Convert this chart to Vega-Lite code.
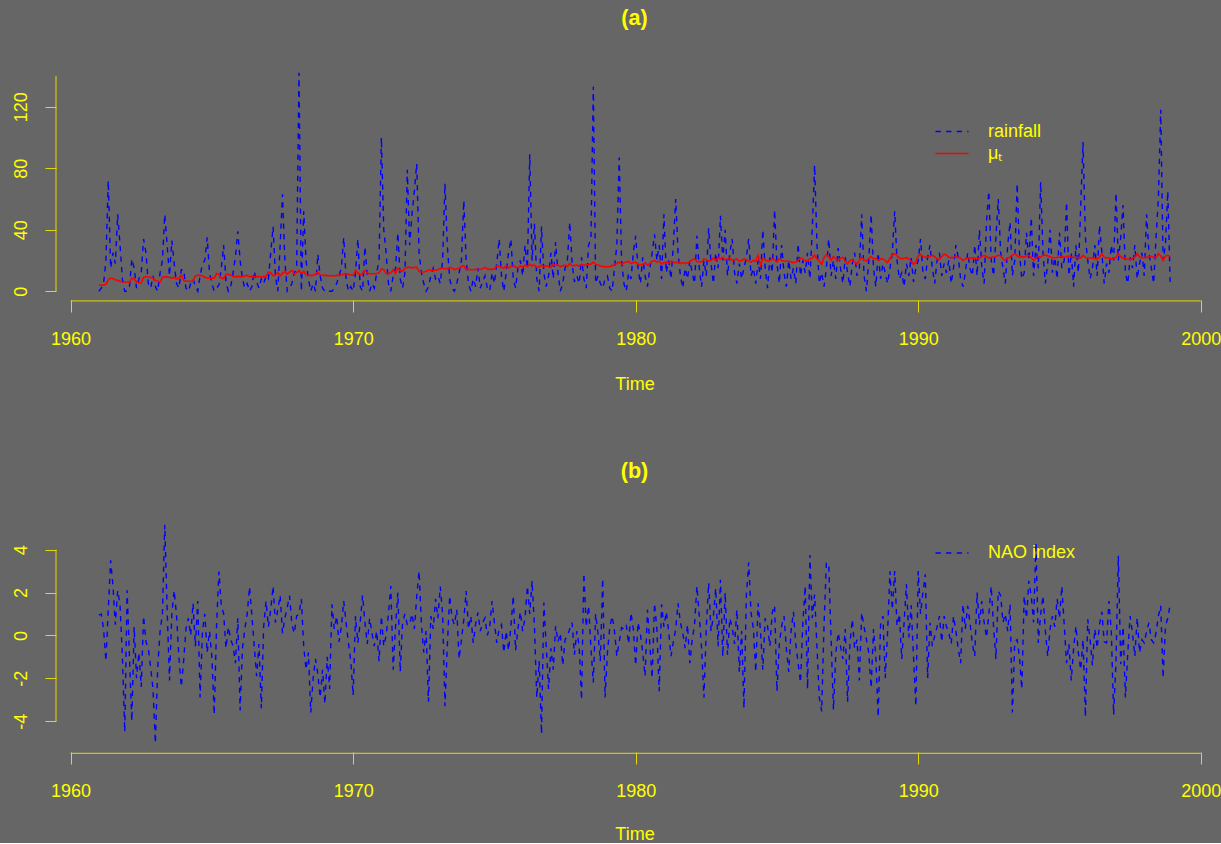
{
"$schema": "https://vega.github.io/schema/vega-lite/v6.json",
"background": "#666666",
"padding": {"left": 11, "top": 8, "right": 0, "bottom": 0},
"spacing": 68,
"resolve": {"scale": {"color": "independent", "strokeDash": "independent"}, "legend": {"color": "independent", "strokeDash": "independent"}},
"config": {
  "view": {"stroke": null},
  "font": "Liberation Sans",
  "axis": {"grid": false, "domain": false, "ticks": true, "tickColor": "#E8D800", "tickSize": 11, "tickWidth": 1, "labelColor": "#FFFF00", "labelFont": "Liberation Sans", "labelFontSize": 18, "titleColor": "#FFFF00", "titleFont": "Liberation Sans", "titleFontSize": 18, "titleFontWeight": "normal"},
  "title": {"color": "#FFFF00", "font": "Liberation Sans", "fontSize": 21.6, "fontWeight": "bold", "anchor": "middle", "offset": 33},
  "legend": {"symbolType": "M-2,0L2,0", "symbolSize": 272, "symbolStrokeWidth": 1.4, "labelColor": "#FFFF00", "labelFont": "Liberation Sans", "labelFontSize": 18, "labelOffset": 27, "rowPadding": 4, "padding": 0}
},
"datasets": {"d": [
{"time":1961,"rain":0,"mu":3.9,"nao":0.95},
{"time":1961.083,"rain":2,"mu":3.9,"nao":1.0},
{"time":1961.167,"rain":5,"mu":4.0,"nao":0.3},
{"time":1961.25,"rain":20,"mu":4.5,"nao":-1.2},
{"time":1961.333,"rain":72,"mu":7.5,"nao":1.2},
{"time":1961.417,"rain":15,"mu":8.5,"nao":3.5},
{"time":1961.5,"rain":25,"mu":8.2,"nao":2.3},
{"time":1961.583,"rain":18,"mu":7.5,"nao":0.5},
{"time":1961.667,"rain":50,"mu":7.0,"nao":2.1},
{"time":1961.75,"rain":30,"mu":6.5,"nao":1.4},
{"time":1961.833,"rain":8,"mu":6.0,"nao":-1.0},
{"time":1961.917,"rain":0,"mu":6.0,"nao":-4.5},
{"time":1962,"rain":0,"mu":6.0,"nao":2.1},
{"time":1962.083,"rain":3,"mu":5.8,"nao":-1.0},
{"time":1962.167,"rain":21,"mu":8.5,"nao":-4.0},
{"time":1962.25,"rain":15,"mu":8.0,"nao":0.4},
{"time":1962.333,"rain":2,"mu":6.0,"nao":-2.0},
{"time":1962.417,"rain":8,"mu":5.5,"nao":-0.8},
{"time":1962.5,"rain":12,"mu":5.5,"nao":-2.4},
{"time":1962.583,"rain":34,"mu":9.0,"nao":0.9},
{"time":1962.667,"rain":25,"mu":9.5,"nao":-0.3},
{"time":1962.75,"rain":5,"mu":9.3,"nao":-0.6},
{"time":1962.833,"rain":2,"mu":9.0,"nao":-1.5},
{"time":1962.917,"rain":10,"mu":8.5,"nao":-2.5},
{"time":1963,"rain":3,"mu":7.0,"nao":-5.03},
{"time":1963.083,"rain":0,"mu":6.5,"nao":-1.5},
{"time":1963.167,"rain":12,"mu":6.0,"nao":0.2},
{"time":1963.25,"rain":20,"mu":9.0,"nao":1.0},
{"time":1963.333,"rain":50,"mu":9.3,"nao":5.16},
{"time":1963.417,"rain":30,"mu":9.3,"nao":1.2},
{"time":1963.5,"rain":10,"mu":9.0,"nao":-2.1},
{"time":1963.583,"rain":33,"mu":8.5,"nao":1.0},
{"time":1963.667,"rain":18,"mu":9.0,"nao":2.1},
{"time":1963.75,"rain":5,"mu":8.0,"nao":0.9},
{"time":1963.833,"rain":2,"mu":8.5,"nao":-1.0},
{"time":1963.917,"rain":14,"mu":10.5,"nao":-2.4},
{"time":1964,"rain":14,"mu":7.0,"nao":-1.2},
{"time":1964.083,"rain":2,"mu":6.5,"nao":0.3},
{"time":1964.167,"rain":0,"mu":6.5,"nao":0.8},
{"time":1964.25,"rain":5,"mu":6.5,"nao":0.0},
{"time":1964.333,"rain":8,"mu":6.5,"nao":1.5},
{"time":1964.417,"rain":3,"mu":10.0,"nao":-0.5},
{"time":1964.5,"rain":0,"mu":10.3,"nao":1.6},
{"time":1964.583,"rain":10,"mu":10.3,"nao":-2.9},
{"time":1964.667,"rain":18,"mu":10.0,"nao":0.2},
{"time":1964.75,"rain":20,"mu":9.0,"nao":1.0},
{"time":1964.833,"rain":35,"mu":8.5,"nao":-0.8},
{"time":1964.917,"rain":12,"mu":8.5,"nao":0.2},
{"time":1965,"rain":5,"mu":8.5,"nao":-1.0},
{"time":1965.083,"rain":0,"mu":8.5,"nao":-3.7},
{"time":1965.167,"rain":2,"mu":11.5,"nao":0.5},
{"time":1965.25,"rain":4,"mu":11.0,"nao":2.98},
{"time":1965.333,"rain":15,"mu":8.5,"nao":1.4},
{"time":1965.417,"rain":30,"mu":8.2,"nao":1.0},
{"time":1965.5,"rain":6,"mu":11.0,"nao":-0.6},
{"time":1965.583,"rain":0,"mu":11.0,"nao":0.4},
{"time":1965.667,"rain":3,"mu":10.5,"nao":-0.2},
{"time":1965.75,"rain":12,"mu":9.5,"nao":-0.5},
{"time":1965.833,"rain":22,"mu":9.5,"nao":-1.3},
{"time":1965.917,"rain":39,"mu":9.5,"nao":0.8},
{"time":1966,"rain":20,"mu":9.5,"nao":-3.5},
{"time":1966.083,"rain":8,"mu":9.5,"nao":-0.6},
{"time":1966.167,"rain":2,"mu":10.0,"nao":0.3},
{"time":1966.25,"rain":5,"mu":10.3,"nao":1.0},
{"time":1966.333,"rain":0,"mu":9.5,"nao":2.27},
{"time":1966.417,"rain":3,"mu":9.5,"nao":0.9},
{"time":1966.5,"rain":13,"mu":9.5,"nao":-0.5},
{"time":1966.583,"rain":6,"mu":9.5,"nao":-1.9},
{"time":1966.667,"rain":2,"mu":9.5,"nao":-0.4},
{"time":1966.75,"rain":8,"mu":9.3,"nao":-3.4},
{"time":1966.833,"rain":5,"mu":9.5,"nao":0.4},
{"time":1966.917,"rain":10,"mu":9.5,"nao":1.6},
{"time":1967,"rain":8,"mu":12.5,"nao":0.4},
{"time":1967.083,"rain":25,"mu":12.0,"nao":1.2},
{"time":1967.167,"rain":42,"mu":10.0,"nao":2.3},
{"time":1967.25,"rain":10,"mu":10.5,"nao":0.6},
{"time":1967.333,"rain":0,"mu":12.0,"nao":1.2},
{"time":1967.417,"rain":30,"mu":10.0,"nao":1.87},
{"time":1967.5,"rain":63,"mu":11.5,"nao":0.1},
{"time":1967.583,"rain":20,"mu":13.0,"nao":0.8},
{"time":1967.667,"rain":0,"mu":11.0,"nao":1.3},
{"time":1967.75,"rain":2,"mu":12.5,"nao":1.85},
{"time":1967.833,"rain":5,"mu":13.5,"nao":0.5},
{"time":1967.917,"rain":12,"mu":11.0,"nao":0.1},
{"time":1968,"rain":15,"mu":12.0,"nao":0.9},
{"time":1968.083,"rain":142,"mu":13.5,"nao":1.0},
{"time":1968.167,"rain":0,"mu":11.5,"nao":1.7},
{"time":1968.25,"rain":52,"mu":13.0,"nao":-0.5},
{"time":1968.333,"rain":20,"mu":10.5,"nao":-1.6},
{"time":1968.417,"rain":8,"mu":10.3,"nao":-0.8},
{"time":1968.5,"rain":0,"mu":10.3,"nao":-3.6},
{"time":1968.583,"rain":5,"mu":10.3,"nao":-2.0},
{"time":1968.667,"rain":0,"mu":11.0,"nao":-1.1},
{"time":1968.75,"rain":24,"mu":12.5,"nao":-1.8},
{"time":1968.833,"rain":10,"mu":10.5,"nao":-2.9},
{"time":1968.917,"rain":2,"mu":10.3,"nao":-1.6},
{"time":1969,"rain":0,"mu":10.3,"nao":-3.2},
{"time":1969.083,"rain":1,"mu":10.3,"nao":-1.0},
{"time":1969.167,"rain":0,"mu":10.0,"nao":-2.5},
{"time":1969.25,"rain":0,"mu":10.0,"nao":1.45},
{"time":1969.333,"rain":2,"mu":10.0,"nao":0.3},
{"time":1969.417,"rain":5,"mu":10.3,"nao":0.9},
{"time":1969.5,"rain":10,"mu":10.3,"nao":-0.3},
{"time":1969.583,"rain":15,"mu":10.5,"nao":0.4},
{"time":1969.667,"rain":35,"mu":11.0,"nao":1.6},
{"time":1969.75,"rain":8,"mu":11.4,"nao":0.6},
{"time":1969.833,"rain":0,"mu":11.0,"nao":-0.35},
{"time":1969.917,"rain":3,"mu":10.5,"nao":-1.2},
{"time":1970,"rain":0,"mu":10.3,"nao":-2.8},
{"time":1970.083,"rain":12,"mu":13.5,"nao":0.9},
{"time":1970.167,"rain":34,"mu":12.0,"nao":-0.35},
{"time":1970.25,"rain":3,"mu":10.5,"nao":0.6},
{"time":1970.333,"rain":0,"mu":11.5,"nao":1.87},
{"time":1970.417,"rain":29,"mu":13.5,"nao":0.6},
{"time":1970.5,"rain":10,"mu":11.5,"nao":-0.4},
{"time":1970.583,"rain":0,"mu":11.4,"nao":0.8},
{"time":1970.667,"rain":5,"mu":11.4,"nao":0.1},
{"time":1970.75,"rain":2,"mu":11.4,"nao":-0.5},
{"time":1970.833,"rain":12,"mu":11.5,"nao":0.2},
{"time":1970.917,"rain":20,"mu":12.0,"nao":-1.2},
{"time":1971,"rain":100,"mu":14.5,"nao":0.9},
{"time":1971.083,"rain":40,"mu":14.0,"nao":-0.5},
{"time":1971.167,"rain":25,"mu":11.5,"nao":0.0},
{"time":1971.25,"rain":5,"mu":11.4,"nao":1.0},
{"time":1971.333,"rain":0,"mu":12.0,"nao":2.3},
{"time":1971.417,"rain":10,"mu":14.0,"nao":-1.6},
{"time":1971.5,"rain":15,"mu":11.5,"nao":0.4},
{"time":1971.583,"rain":38,"mu":15.0,"nao":2.0},
{"time":1971.667,"rain":8,"mu":13.5,"nao":-1.7},
{"time":1971.75,"rain":2,"mu":13.0,"nao":0.6},
{"time":1971.833,"rain":12,"mu":15.0,"nao":1.0},
{"time":1971.917,"rain":79,"mu":15.5,"nao":0.5},
{"time":1972,"rain":30,"mu":15.7,"nao":0.5},
{"time":1972.083,"rain":50,"mu":15.0,"nao":1.0},
{"time":1972.167,"rain":65,"mu":15.5,"nao":0.3},
{"time":1972.25,"rain":83,"mu":15.5,"nao":1.8},
{"time":1972.333,"rain":25,"mu":13.0,"nao":3.0},
{"time":1972.417,"rain":12,"mu":12.5,"nao":0.5},
{"time":1972.5,"rain":5,"mu":12.5,"nao":-0.8},
{"time":1972.583,"rain":0,"mu":13.0,"nao":0.2},
{"time":1972.667,"rain":3,"mu":13.6,"nao":-3.1},
{"time":1972.75,"rain":10,"mu":13.6,"nao":0.9},
{"time":1972.833,"rain":15,"mu":13.5,"nao":0.3},
{"time":1972.917,"rain":8,"mu":13.6,"nao":1.7},
{"time":1973,"rain":10,"mu":14.0,"nao":0.8},
{"time":1973.083,"rain":5,"mu":14.7,"nao":2.28},
{"time":1973.167,"rain":20,"mu":15.0,"nao":1.0},
{"time":1973.25,"rain":70,"mu":14.5,"nao":-3.3},
{"time":1973.333,"rain":30,"mu":14.7,"nao":-0.5},
{"time":1973.417,"rain":8,"mu":15.5,"nao":1.85},
{"time":1973.5,"rain":2,"mu":15.0,"nao":0.8},
{"time":1973.583,"rain":0,"mu":14.0,"nao":0.5},
{"time":1973.667,"rain":5,"mu":14.5,"nao":1.2},
{"time":1973.75,"rain":12,"mu":15.0,"nao":-1.1},
{"time":1973.833,"rain":20,"mu":16.0,"nao":-0.2},
{"time":1973.917,"rain":59,"mu":16.5,"nao":0.75},
{"time":1974,"rain":20,"mu":14.2,"nao":2.07},
{"time":1974.083,"rain":5,"mu":14.2,"nao":0.3},
{"time":1974.167,"rain":0,"mu":14.0,"nao":0.9},
{"time":1974.25,"rain":8,"mu":14.0,"nao":-0.35},
{"time":1974.333,"rain":3,"mu":14.2,"nao":0.5},
{"time":1974.417,"rain":15,"mu":14.2,"nao":1.06},
{"time":1974.5,"rain":2,"mu":14.3,"nao":0.2},
{"time":1974.583,"rain":6,"mu":14.5,"nao":0.6},
{"time":1974.667,"rain":10,"mu":15.5,"nao":0.82},
{"time":1974.75,"rain":2,"mu":14.5,"nao":0.0},
{"time":1974.833,"rain":0,"mu":14.2,"nao":0.4},
{"time":1974.917,"rain":12,"mu":14.2,"nao":1.6},
{"time":1975,"rain":5,"mu":14.5,"nao":0.6},
{"time":1975.083,"rain":18,"mu":16.5,"nao":-0.35},
{"time":1975.167,"rain":34,"mu":16.0,"nao":0.3},
{"time":1975.25,"rain":10,"mu":15.5,"nao":0.5},
{"time":1975.333,"rain":0,"mu":15.0,"nao":-0.8},
{"time":1975.417,"rain":12,"mu":16.5,"nao":0.2},
{"time":1975.5,"rain":25,"mu":15.2,"nao":-0.7},
{"time":1975.583,"rain":34,"mu":16.0,"nao":0.4},
{"time":1975.667,"rain":8,"mu":17.0,"nao":1.85},
{"time":1975.75,"rain":2,"mu":15.5,"nao":-0.7},
{"time":1975.833,"rain":15,"mu":15.2,"nao":0.3},
{"time":1975.917,"rain":20,"mu":16.5,"nao":1.1},
{"time":1976,"rain":10,"mu":15.5,"nao":0.2},
{"time":1976.083,"rain":30,"mu":17.0,"nao":0.8},
{"time":1976.167,"rain":15,"mu":16.0,"nao":2.3},
{"time":1976.25,"rain":89,"mu":17.5,"nao":1.0},
{"time":1976.333,"rain":20,"mu":16.5,"nao":2.55},
{"time":1976.417,"rain":44,"mu":17.0,"nao":0.4},
{"time":1976.5,"rain":8,"mu":15.5,"nao":-2.9},
{"time":1976.583,"rain":0,"mu":15.8,"nao":-1.2},
{"time":1976.667,"rain":42,"mu":17.0,"nao":-4.6},
{"time":1976.75,"rain":12,"mu":16.0,"nao":1.53},
{"time":1976.833,"rain":3,"mu":16.5,"nao":-0.5},
{"time":1976.917,"rain":10,"mu":16.0,"nao":-2.5},
{"time":1977,"rain":25,"mu":15.5,"nao":-0.6},
{"time":1977.083,"rain":8,"mu":17.5,"nao":-1.6},
{"time":1977.167,"rain":32,"mu":16.8,"nao":0.44},
{"time":1977.25,"rain":12,"mu":17.0,"nao":-0.3},
{"time":1977.333,"rain":0,"mu":16.0,"nao":0.1},
{"time":1977.417,"rain":5,"mu":16.5,"nao":-1.4},
{"time":1977.5,"rain":15,"mu":17.0,"nao":-0.2},
{"time":1977.583,"rain":20,"mu":16.0,"nao":0.0},
{"time":1977.667,"rain":45,"mu":18.0,"nao":0.3},
{"time":1977.75,"rain":18,"mu":16.5,"nao":0.6},
{"time":1977.833,"rain":6,"mu":16.8,"nao":-0.9},
{"time":1977.917,"rain":10,"mu":17.0,"nao":0.2},
{"time":1978,"rain":5,"mu":16.2,"nao":-0.5},
{"time":1978.083,"rain":22,"mu":17.5,"nao":-3.0},
{"time":1978.167,"rain":8,"mu":16.8,"nao":2.9},
{"time":1978.25,"rain":2,"mu":17.0,"nao":0.4},
{"time":1978.333,"rain":30,"mu":17.2,"nao":1.38},
{"time":1978.417,"rain":34,"mu":17.5,"nao":-0.6},
{"time":1978.5,"rain":133,"mu":19.0,"nao":-2.2},
{"time":1978.583,"rain":5,"mu":17.5,"nao":1.0},
{"time":1978.667,"rain":10,"mu":17.0,"nao":0.1},
{"time":1978.75,"rain":5,"mu":16.5,"nao":-1.2},
{"time":1978.833,"rain":2,"mu":16.0,"nao":2.65},
{"time":1978.917,"rain":8,"mu":16.0,"nao":-2.9},
{"time":1979,"rain":10,"mu":15.8,"nao":-0.8},
{"time":1979.083,"rain":2,"mu":16.0,"nao":0.4},
{"time":1979.167,"rain":0,"mu":16.5,"nao":0.9},
{"time":1979.25,"rain":15,"mu":17.5,"nao":0.2},
{"time":1979.333,"rain":30,"mu":18.0,"nao":-0.97},
{"time":1979.417,"rain":87,"mu":19.0,"nao":-0.3},
{"time":1979.5,"rain":20,"mu":17.5,"nao":0.36},
{"time":1979.583,"rain":5,"mu":18.5,"nao":0.3},
{"time":1979.667,"rain":0,"mu":19.0,"nao":0.5},
{"time":1979.75,"rain":12,"mu":19.5,"nao":-0.4},
{"time":1979.833,"rain":8,"mu":18.0,"nao":1.06},
{"time":1979.917,"rain":25,"mu":18.5,"nao":0.3},
{"time":1980,"rain":36,"mu":19.0,"nao":-1.4},
{"time":1980.083,"rain":15,"mu":17.5,"nao":0.6},
{"time":1980.167,"rain":5,"mu":17.0,"nao":0.05},
{"time":1980.25,"rain":22,"mu":17.5,"nao":-0.8},
{"time":1980.333,"rain":10,"mu":18.5,"nao":-1.9},
{"time":1980.417,"rain":3,"mu":17.0,"nao":1.2},
{"time":1980.5,"rain":15,"mu":18.0,"nao":-0.4},
{"time":1980.583,"rain":25,"mu":19.5,"nao":-2.0},
{"time":1980.667,"rain":37,"mu":20.0,"nao":1.5},
{"time":1980.75,"rain":20,"mu":19.0,"nao":0.3},
{"time":1980.833,"rain":30,"mu":19.5,"nao":-2.6},
{"time":1980.917,"rain":8,"mu":17.5,"nao":1.45},
{"time":1981,"rain":50,"mu":18.5,"nao":0.4},
{"time":1981.083,"rain":12,"mu":19.0,"nao":1.1},
{"time":1981.167,"rain":20,"mu":18.5,"nao":0.2},
{"time":1981.25,"rain":8,"mu":19.5,"nao":-0.97},
{"time":1981.333,"rain":30,"mu":19.0,"nao":-0.3},
{"time":1981.417,"rain":60,"mu":18.5,"nao":0.3},
{"time":1981.5,"rain":25,"mu":19.0,"nao":1.5},
{"time":1981.583,"rain":10,"mu":18.0,"nao":0.6},
{"time":1981.667,"rain":2,"mu":18.5,"nao":0.1},
{"time":1981.75,"rain":15,"mu":18.0,"nao":-0.6},
{"time":1981.833,"rain":8,"mu":18.5,"nao":0.5},
{"time":1981.917,"rain":20,"mu":19.0,"nao":-1.3},
{"time":1982,"rain":12,"mu":20.5,"nao":-0.2},
{"time":1982.083,"rain":5,"mu":21.0,"nao":0.5},
{"time":1982.167,"rain":36,"mu":19.5,"nao":2.3},
{"time":1982.25,"rain":15,"mu":19.0,"nao":0.9},
{"time":1982.333,"rain":3,"mu":19.0,"nao":-0.6},
{"time":1982.417,"rain":20,"mu":21.0,"nao":-2.9},
{"time":1982.5,"rain":10,"mu":20.5,"nao":0.4},
{"time":1982.583,"rain":41,"mu":19.5,"nao":2.45},
{"time":1982.667,"rain":18,"mu":20.0,"nao":0.2},
{"time":1982.75,"rain":5,"mu":21.5,"nao":0.9},
{"time":1982.833,"rain":25,"mu":20.0,"nao":2.2},
{"time":1982.917,"rain":15,"mu":22.0,"nao":-0.5},
{"time":1983,"rain":49,"mu":21.0,"nao":2.6},
{"time":1983.083,"rain":20,"mu":22.0,"nao":-0.97},
{"time":1983.167,"rain":40,"mu":20.5,"nao":2.0},
{"time":1983.25,"rain":10,"mu":21.0,"nao":-0.9},
{"time":1983.333,"rain":25,"mu":21.5,"nao":0.8},
{"time":1983.417,"rain":34,"mu":20.0,"nao":0.36},
{"time":1983.5,"rain":12,"mu":20.5,"nao":-0.4},
{"time":1983.583,"rain":5,"mu":21.0,"nao":1.2},
{"time":1983.667,"rain":18,"mu":19.5,"nao":-1.7},
{"time":1983.75,"rain":8,"mu":20.0,"nao":0.2},
{"time":1983.833,"rain":15,"mu":21.0,"nao":-3.4},
{"time":1983.917,"rain":22,"mu":20.5,"nao":1.85},
{"time":1984,"rain":34,"mu":19.5,"nao":3.4},
{"time":1984.083,"rain":10,"mu":19.0,"nao":1.06},
{"time":1984.167,"rain":15,"mu":20.0,"nao":0.3},
{"time":1984.25,"rain":5,"mu":19.5,"nao":-1.7},
{"time":1984.333,"rain":20,"mu":23.3,"nao":1.5},
{"time":1984.417,"rain":8,"mu":17.0,"nao":0.2},
{"time":1984.5,"rain":40,"mu":21.0,"nao":-1.6},
{"time":1984.583,"rain":15,"mu":20.5,"nao":0.8},
{"time":1984.667,"rain":2,"mu":19.5,"nao":0.44},
{"time":1984.75,"rain":22,"mu":20.0,"nao":-0.5},
{"time":1984.833,"rain":12,"mu":21.0,"nao":1.06},
{"time":1984.917,"rain":53,"mu":20.5,"nao":1.4},
{"time":1985,"rain":18,"mu":19.0,"nao":-2.6},
{"time":1985.083,"rain":5,"mu":21.0,"nao":-0.4},
{"time":1985.167,"rain":30,"mu":20.0,"nao":0.44},
{"time":1985.25,"rain":12,"mu":19.5,"nao":0.9},
{"time":1985.333,"rain":3,"mu":19.5,"nao":-0.6},
{"time":1985.417,"rain":20,"mu":19.5,"nao":-1.7},
{"time":1985.5,"rain":8,"mu":19.0,"nao":0.2},
{"time":1985.583,"rain":15,"mu":18.5,"nao":1.1},
{"time":1985.667,"rain":5,"mu":19.0,"nao":-0.4},
{"time":1985.75,"rain":31,"mu":20.0,"nao":-1.3},
{"time":1985.833,"rain":10,"mu":21.5,"nao":-2.2},
{"time":1985.917,"rain":20,"mu":21.0,"nao":0.6},
{"time":1986,"rain":12,"mu":20.0,"nao":2.3},
{"time":1986.083,"rain":25,"mu":19.5,"nao":-2.5},
{"time":1986.167,"rain":8,"mu":21.0,"nao":3.75},
{"time":1986.25,"rain":40,"mu":21.5,"nao":0.8},
{"time":1986.333,"rain":82,"mu":23.5,"nao":1.9},
{"time":1986.417,"rain":30,"mu":21.0,"nao":-0.6},
{"time":1986.5,"rain":5,"mu":19.5,"nao":-2.9},
{"time":1986.583,"rain":12,"mu":17.5,"nao":-3.55},
{"time":1986.667,"rain":3,"mu":22.0,"nao":0.5},
{"time":1986.75,"rain":15,"mu":23.7,"nao":3.4},
{"time":1986.833,"rain":34,"mu":22.5,"nao":3.3},
{"time":1986.917,"rain":10,"mu":20.0,"nao":-0.2},
{"time":1987,"rain":20,"mu":22.5,"nao":-3.47},
{"time":1987.083,"rain":8,"mu":21.0,"nao":-0.8},
{"time":1987.167,"rain":28,"mu":20.0,"nao":0.12},
{"time":1987.25,"rain":15,"mu":21.5,"nao":-0.5},
{"time":1987.333,"rain":5,"mu":22.0,"nao":-1.1},
{"time":1987.417,"rain":22,"mu":19.5,"nao":0.3},
{"time":1987.5,"rain":12,"mu":17.8,"nao":-3.1},
{"time":1987.583,"rain":3,"mu":20.0,"nao":-0.4},
{"time":1987.667,"rain":18,"mu":20.5,"nao":0.75},
{"time":1987.75,"rain":25,"mu":19.0,"nao":-0.6},
{"time":1987.833,"rain":10,"mu":17.5,"nao":-0.2},
{"time":1987.917,"rain":15,"mu":20.0,"nao":-2.1},
{"time":1988,"rain":50,"mu":22.0,"nao":1.06},
{"time":1988.083,"rain":10,"mu":20.5,"nao":0.4},
{"time":1988.167,"rain":0,"mu":19.5,"nao":-0.2},
{"time":1988.25,"rain":20,"mu":21.5,"nao":-0.8},
{"time":1988.333,"rain":50,"mu":22.5,"nao":-2.45},
{"time":1988.417,"rain":15,"mu":21.0,"nao":0.3},
{"time":1988.5,"rain":3,"mu":21.5,"nao":-1.0},
{"time":1988.583,"rain":25,"mu":20.0,"nao":-3.8},
{"time":1988.667,"rain":8,"mu":21.0,"nao":0.5},
{"time":1988.75,"rain":18,"mu":21.0,"nao":0.9},
{"time":1988.833,"rain":12,"mu":20.0,"nao":-1.99},
{"time":1988.917,"rain":5,"mu":18.5,"nao":0.2},
{"time":1989,"rain":15,"mu":21.5,"nao":2.99},
{"time":1989.083,"rain":25,"mu":23.5,"nao":1.2},
{"time":1989.167,"rain":52,"mu":24.4,"nao":3.0},
{"time":1989.25,"rain":20,"mu":23.0,"nao":0.44},
{"time":1989.333,"rain":8,"mu":21.5,"nao":1.0},
{"time":1989.417,"rain":12,"mu":21.0,"nao":-1.1},
{"time":1989.5,"rain":3,"mu":21.5,"nao":0.6},
{"time":1989.583,"rain":18,"mu":21.8,"nao":2.39},
{"time":1989.667,"rain":10,"mu":21.0,"nao":-0.1},
{"time":1989.75,"rain":22,"mu":19.5,"nao":1.4},
{"time":1989.833,"rain":6,"mu":17.5,"nao":-1.0},
{"time":1989.917,"rain":15,"mu":19.0,"nao":-3.3},
{"time":1990,"rain":20,"mu":23.0,"nao":3.0},
{"time":1990.083,"rain":34,"mu":24.0,"nao":1.0},
{"time":1990.167,"rain":12,"mu":22.5,"nao":2.0},
{"time":1990.25,"rain":8,"mu":22.0,"nao":2.85},
{"time":1990.333,"rain":22,"mu":22.2,"nao":-1.99},
{"time":1990.417,"rain":30,"mu":22.5,"nao":0.59},
{"time":1990.5,"rain":15,"mu":23.3,"nao":-0.5},
{"time":1990.583,"rain":5,"mu":22.5,"nao":-0.03},
{"time":1990.667,"rain":20,"mu":21.0,"nao":0.4},
{"time":1990.75,"rain":25,"mu":20.5,"nao":0.9},
{"time":1990.833,"rain":10,"mu":22.5,"nao":-0.3},
{"time":1990.917,"rain":18,"mu":24.0,"nao":0.9},
{"time":1991,"rain":12,"mu":23.5,"nao":0.4},
{"time":1991.083,"rain":20,"mu":22.0,"nao":0.12},
{"time":1991.167,"rain":5,"mu":21.8,"nao":-0.4},
{"time":1991.25,"rain":15,"mu":22.0,"nao":0.9},
{"time":1991.333,"rain":30,"mu":22.5,"nao":0.2},
{"time":1991.417,"rain":22,"mu":22.0,"nao":-0.6},
{"time":1991.5,"rain":8,"mu":21.5,"nao":-1.3},
{"time":1991.583,"rain":3,"mu":20.0,"nao":1.45},
{"time":1991.667,"rain":12,"mu":21.0,"nao":0.3},
{"time":1991.75,"rain":25,"mu":21.5,"nao":1.38},
{"time":1991.833,"rain":15,"mu":21.6,"nao":0.6},
{"time":1991.917,"rain":10,"mu":21.5,"nao":-0.4},
{"time":1992,"rain":30,"mu":21.5,"nao":-0.97},
{"time":1992.083,"rain":10,"mu":21.2,"nao":2.0},
{"time":1992.167,"rain":40,"mu":21.5,"nao":0.5},
{"time":1992.25,"rain":15,"mu":22.5,"nao":1.6},
{"time":1992.333,"rain":5,"mu":23.3,"nao":0.6},
{"time":1992.417,"rain":45,"mu":22.5,"nao":-0.1},
{"time":1992.5,"rain":65,"mu":21.6,"nao":1.0},
{"time":1992.583,"rain":20,"mu":22.0,"nao":2.3},
{"time":1992.667,"rain":10,"mu":22.2,"nao":0.4},
{"time":1992.75,"rain":35,"mu":22.5,"nao":-1.1},
{"time":1992.833,"rain":60,"mu":23.5,"nao":2.07},
{"time":1992.917,"rain":25,"mu":23.0,"nao":1.85},
{"time":1993,"rain":15,"mu":21.0,"nao":0.6},
{"time":1993.083,"rain":5,"mu":20.0,"nao":1.0},
{"time":1993.167,"rain":30,"mu":21.5,"nao":0.2},
{"time":1993.25,"rain":45,"mu":22.2,"nao":1.45},
{"time":1993.333,"rain":10,"mu":23.5,"nao":-3.6},
{"time":1993.417,"rain":20,"mu":24.4,"nao":-0.3},
{"time":1993.5,"rain":70,"mu":23.0,"nao":-0.2},
{"time":1993.583,"rain":25,"mu":22.0,"nao":-1.0},
{"time":1993.667,"rain":8,"mu":22.5,"nao":-2.5},
{"time":1993.75,"rain":12,"mu":22.2,"nao":1.85},
{"time":1993.833,"rain":38,"mu":23.0,"nao":0.8},
{"time":1993.917,"rain":20,"mu":23.3,"nao":2.55},
{"time":1994,"rain":48,"mu":22.0,"nao":1.85},
{"time":1994.083,"rain":10,"mu":20.0,"nao":0.6},
{"time":1994.167,"rain":30,"mu":21.5,"nao":4.34},
{"time":1994.25,"rain":15,"mu":22.5,"nao":-0.35},
{"time":1994.333,"rain":71,"mu":22.2,"nao":1.0},
{"time":1994.417,"rain":25,"mu":23.3,"nao":1.85},
{"time":1994.5,"rain":5,"mu":23.5,"nao":0.2},
{"time":1994.583,"rain":18,"mu":23.0,"nao":-0.97},
{"time":1994.667,"rain":40,"mu":22.5,"nao":0.3},
{"time":1994.75,"rain":12,"mu":21.8,"nao":0.9},
{"time":1994.833,"rain":22,"mu":21.6,"nao":0.4},
{"time":1994.917,"rain":8,"mu":22.0,"nao":1.7},
{"time":1995,"rain":38,"mu":22.2,"nao":0.8},
{"time":1995.083,"rain":15,"mu":22.5,"nao":2.3},
{"time":1995.167,"rain":20,"mu":22.0,"nao":0.5},
{"time":1995.25,"rain":58,"mu":22.5,"nao":-1.3},
{"time":1995.333,"rain":10,"mu":23.0,"nao":-0.4},
{"time":1995.417,"rain":25,"mu":22.0,"nao":-2.1},
{"time":1995.5,"rain":3,"mu":22.2,"nao":-0.6},
{"time":1995.583,"rain":30,"mu":21.6,"nao":0.44},
{"time":1995.667,"rain":12,"mu":22.0,"nao":-0.8},
{"time":1995.75,"rain":55,"mu":21.6,"nao":-1.6},
{"time":1995.833,"rain":97,"mu":23.3,"nao":-0.2},
{"time":1995.917,"rain":35,"mu":22.0,"nao":-3.8},
{"time":1996,"rain":20,"mu":21.6,"nao":0.75},
{"time":1996.083,"rain":8,"mu":21.6,"nao":-0.2},
{"time":1996.167,"rain":15,"mu":21.5,"nao":-1.4},
{"time":1996.25,"rain":30,"mu":21.1,"nao":0.3},
{"time":1996.333,"rain":10,"mu":21.0,"nao":-0.6},
{"time":1996.417,"rain":43,"mu":22.0,"nao":0.5},
{"time":1996.5,"rain":25,"mu":24.4,"nao":1.1},
{"time":1996.583,"rain":5,"mu":22.0,"nao":-0.3},
{"time":1996.667,"rain":18,"mu":21.6,"nao":-0.35},
{"time":1996.75,"rain":12,"mu":21.5,"nao":1.6},
{"time":1996.833,"rain":30,"mu":21.0,"nao":0.2},
{"time":1996.917,"rain":20,"mu":21.1,"nao":-3.7},
{"time":1997,"rain":64,"mu":22.0,"nao":-1.2},
{"time":1997.083,"rain":20,"mu":24.4,"nao":3.72},
{"time":1997.167,"rain":35,"mu":22.5,"nao":-1.35},
{"time":1997.25,"rain":56,"mu":21.6,"nao":0.4},
{"time":1997.333,"rain":12,"mu":21.0,"nao":-2.9},
{"time":1997.417,"rain":5,"mu":20.8,"nao":-0.8},
{"time":1997.5,"rain":22,"mu":20.5,"nao":0.9},
{"time":1997.583,"rain":15,"mu":21.5,"nao":0.1},
{"time":1997.667,"rain":30,"mu":22.0,"nao":-0.97},
{"time":1997.75,"rain":8,"mu":24.4,"nao":0.82},
{"time":1997.833,"rain":18,"mu":22.5,"nao":-0.8},
{"time":1997.917,"rain":25,"mu":21.6,"nao":-0.2},
{"time":1998,"rain":10,"mu":22.0,"nao":-0.35},
{"time":1998.083,"rain":50,"mu":22.0,"nao":0.2},
{"time":1998.167,"rain":25,"mu":22.2,"nao":0.59},
{"time":1998.25,"rain":15,"mu":22.5,"nao":-0.2},
{"time":1998.333,"rain":5,"mu":22.0,"nao":-0.35},
{"time":1998.417,"rain":35,"mu":22.0,"nao":0.12},
{"time":1998.5,"rain":60,"mu":24.4,"nao":0.9},
{"time":1998.583,"rain":118,"mu":23.0,"nao":1.38},
{"time":1998.667,"rain":20,"mu":20.0,"nao":-1.99},
{"time":1998.75,"rain":30,"mu":23.0,"nao":0.44},
{"time":1998.833,"rain":65,"mu":23.3,"nao":0.8},
{"time":1998.917,"rain":6,"mu":22.5,"nao":1.45}
]},
"vconcat": [
{
  "width": 1157, "height": 237,
  "title": "(a)",
  "data": {"name": "d"},
  "layer": [
    {"data": {"values": [{}]}, "mark": {"type": "rule", "color": "#E8D800", "strokeWidth": 1}, "encoding": {"x": {"datum": 1960}, "x2": {"datum": 2000}, "y": {"datum": -6.3}}},
    {"data": {"values": [{}]}, "mark": {"type": "rule", "color": "#E8D800", "strokeWidth": 1}, "encoding": {"x": {"datum": 1959.483}, "y": {"datum": 0}, "y2": {"datum": 140}}},
    {"mark": {"type": "line", "strokeWidth": 1.4}, "encoding": {
      "x": {"field": "time", "type": "quantitative", "scale": {"domain": [1959.483, 2000.433], "nice": false, "zero": false}, "axis": {"values": [1960, 1970, 1980, 1990, 2000], "format": "d", "title": "Time", "labelPadding": 18, "titlePadding": 27, "tickSize": 12}},
      "y": {"field": "rain", "type": "quantitative", "scale": {"domain": [-5.71, 148.4], "nice": false, "zero": false}, "axis": {"values": [0, 20, 40, 60, 80, 100, 120, 140], "labelExpr": "datum.value % 40 == 0 ? toString(datum.value) : ''", "labelAngle": 270, "labelAlign": "center", "labelBaseline": "bottom", "labelPadding": 15, "title": null}},
      "color": {"datum": "rainfall", "scale": {"domain": ["rainfall", "μₜ"], "range": ["#0000FF", "#FF0000"]}, "legend": {"title": null, "orient": "none", "legendX": 887, "legendY": 59.5}},
      "strokeDash": {"datum": "rainfall", "scale": {"domain": ["rainfall", "μₜ"], "range": [[5.3, 5.3], [1, 0]]}, "legend": {"title": null, "orient": "none", "legendX": 887, "legendY": 59.5}}
    }},
    {"mark": {"type": "line", "strokeWidth": 1.6}, "encoding": {
      "x": {"field": "time", "type": "quantitative"},
      "y": {"field": "mu", "type": "quantitative"},
      "color": {"datum": "μₜ"},
      "strokeDash": {"datum": "μₜ"}
    }}
  ]
},
{
  "width": 1157, "height": 236,
  "title": "(b)",
  "data": {"name": "d"},
  "layer": [
    {"data": {"values": [{}]}, "mark": {"type": "rule", "color": "#E8D800", "strokeWidth": 1}, "encoding": {"x": {"datum": 1960}, "x2": {"datum": 2000}, "y": {"datum": -5.5}}},
    {"data": {"values": [{}]}, "mark": {"type": "rule", "color": "#E8D800", "strokeWidth": 1}, "encoding": {"x": {"datum": 1959.483}, "y": {"datum": -4}, "y2": {"datum": 4}}},
    {"mark": {"type": "line", "strokeWidth": 1.4}, "encoding": {
      "x": {"field": "time", "type": "quantitative", "scale": {"domain": [1959.483, 2000.433], "nice": false, "zero": false}, "axis": {"values": [1960, 1970, 1980, 1990, 2000], "format": "d", "title": "Time", "labelPadding": 18, "titlePadding": 25, "tickSize": 12}},
      "y": {"field": "nao", "type": "quantitative", "scale": {"domain": [-5.44, 5.57], "nice": false, "zero": false}, "axis": {"values": [-4, -2, 0, 2, 4], "labelExpr": "toString(datum.value)", "labelAngle": 270, "labelAlign": "center", "labelBaseline": "bottom", "labelPadding": 15, "title": null}},
      "color": {"datum": "NAO index", "scale": {"domain": ["NAO index"], "range": ["#0000FF"]}, "legend": {"title": null, "orient": "none", "legendX": 887, "legendY": 28}},
      "strokeDash": {"datum": "NAO index", "scale": {"domain": ["NAO index"], "range": [[5.3, 5.3]]}, "legend": {"title": null, "orient": "none", "legendX": 887, "legendY": 28}}
    }}
  ]
}
]
}
